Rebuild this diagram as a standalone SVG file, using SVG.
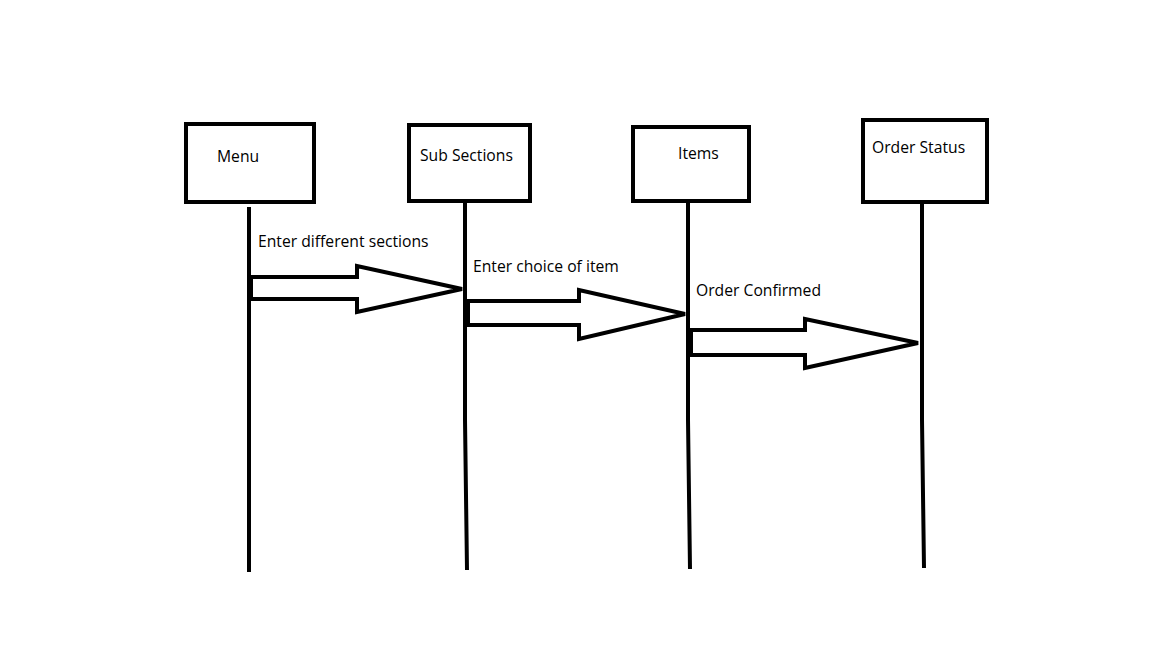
<svg xmlns="http://www.w3.org/2000/svg" width="1152" height="648" viewBox="0 0 1152 648">
<style>
.box{fill:#fff;stroke:#000;stroke-width:4}
.life{stroke:#000;stroke-width:4;fill:none}
.arr{fill:#fff;stroke:#000;stroke-width:4;stroke-linejoin:miter}
text{font-family:"Open Sans","Liberation Sans",sans-serif;font-size:15.7px;fill:#000}
</style>
<rect width="1152" height="648" fill="#fff"/>
<g id="connectors">
<line class="life" x1="249" y1="207" x2="249" y2="572"/>
<polyline class="life" points="465,203 465,420 467,570"/>
<polyline class="life" points="688,203 688,420 690,569"/>
<polyline class="life" points="922,204 922,420 924,568"/>
<polygon class="arr" points="251,277 357,277 357,266 462,289 357,312 357,299 251,299"/>
<polygon class="arr" points="468,301 579,301 579,290 685,314 579,339 579,325 468,325"/>
<polygon class="arr" points="691,330 805,330 805,319 918,343 805,368 805,355 691,355"/>
<text x="258" y="247">Enter different sections</text>
<text x="473" y="272">Enter choice of item</text>
<text x="696" y="296">Order Confirmed</text>
</g>
<g id="menu">
<rect class="box" x="186" y="124" width="128" height="78"/>
<text x="217" y="162">Menu</text>
</g>
<g id="subsections">
<rect class="box" x="409" y="125" width="121" height="76"/>
<text x="420" y="161">Sub Sections</text>
</g>
<g id="items">
<rect class="box" x="633" y="127" width="116" height="74"/>
<text x="678" y="159">Items</text>
</g>
<g id="orderstatus">
<rect class="box" x="863" y="120" width="124" height="82"/>
<text x="872" y="153">Order Status</text>
</g>
</svg>
